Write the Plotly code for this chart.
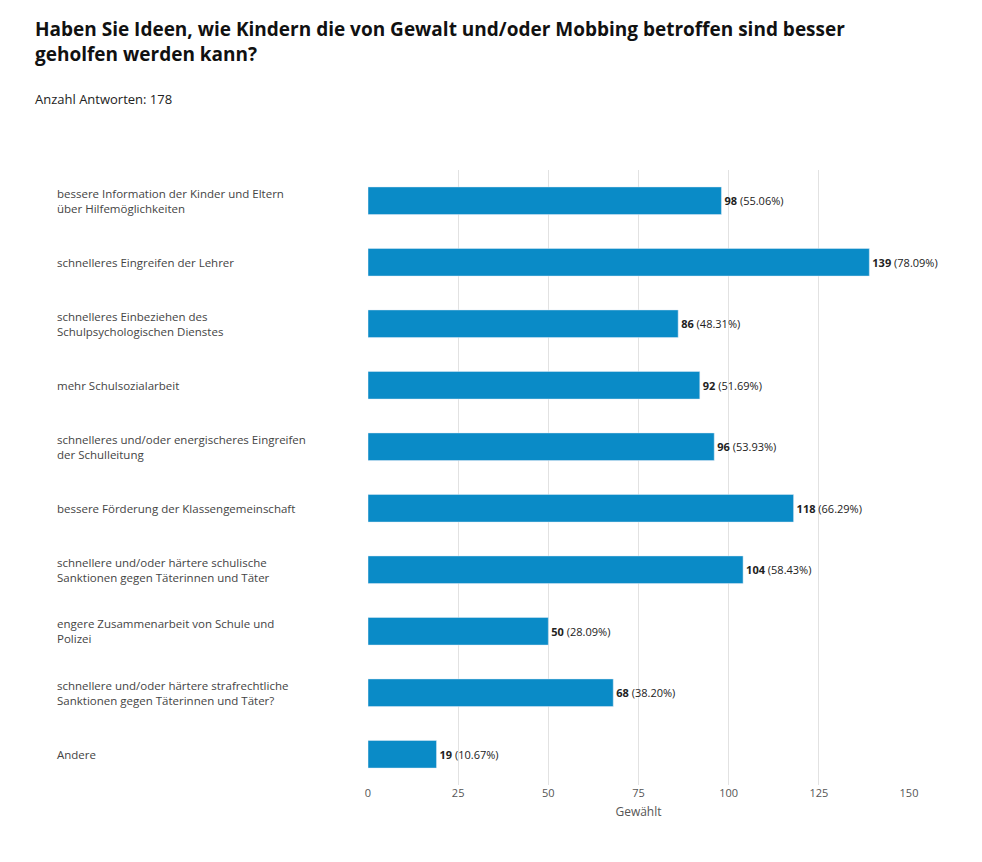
import plotly.graph_objects as go

categories = [
    "bessere Information der Kinder und Eltern<br>über Hilfemöglichkeiten",
    "schnelleres Eingreifen der Lehrer",
    "schnelleres Einbeziehen des<br>Schulpsychologischen Dienstes",
    "mehr Schulsozialarbeit",
    "schnelleres und/oder energischeres Eingreifen<br>der Schulleitung",
    "bessere Förderung der Klassengemeinschaft",
    "schnellere und/oder härtere schulische<br>Sanktionen gegen Täterinnen und Täter",
    "engere Zusammenarbeit von Schule und<br>Polizei",
    "schnellere und/oder härtere strafrechtliche<br>Sanktionen gegen Täterinnen und Täter?",
    "Andere",
]
counts = [98, 139, 86, 92, 96, 118, 104, 50, 68, 19]
percents = ["55.06%", "78.09%", "48.31%", "51.69%", "53.93%", "66.29%", "58.43%", "28.09%", "38.20%", "10.67%"]

font = "Open Sans"
L, T, B = 360, 162, 85
PW, PH = 982 - L - 81, 862 - T - B
ypos = list(range(len(categories)))


def px_x(x):
    return (x - L) / PW


def px_y(y):
    return 1 + (T - y) / PH


fig = go.Figure()
fig.add_trace(go.Bar(
    x=counts, y=ypos, orientation="h", width=0.45,
    marker_color="#0a8bc7",
    text=[f"<b>{c}</b> ({p})" for c, p in zip(counts, percents)],
    textposition="outside", cliponaxis=False,
    textfont=dict(size=11, color="#222"),
    hoverinfo="skip",
))

for i, cat in enumerate(categories):
    fig.add_annotation(
        x=px_x(47), xref="paper", y=i, yref="y",
        text=cat, showarrow=False, xanchor="left", align="left",
        font=dict(size=11.5, color="#444"),
    )

fig.add_annotation(
    text="<b>Haben Sie Ideen, wie Kindern die von Gewalt und/oder Mobbing betroffen sind besser<br>geholfen werden kann?</b>",
    xref="paper", yref="paper", x=px_x(25), y=px_y(6), xanchor="left", yanchor="top",
    align="left", showarrow=False, font=dict(size=19, color="#111"),
)
fig.add_annotation(
    text="Anzahl Antworten: 178", xref="paper", yref="paper",
    x=px_x(25), y=px_y(91), xanchor="left", yanchor="middle",
    showarrow=False, font=dict(size=13, color="#222"),
)

fig.update_layout(
    width=982, height=862,
    margin=dict(l=L, r=81, t=T, b=B),
    paper_bgcolor="white", plot_bgcolor="white",
    font=dict(family=font, color="#444"),
    showlegend=False,
)
fig.update_xaxes(
    range=[0, 150], tickvals=[0, 25, 50, 75, 100, 125, 150],
    showgrid=True, gridcolor="#e2e2e2", zeroline=False,
    tickfont=dict(size=11, color="#555"),
    title=dict(text="Gewählt", font=dict(size=12, color="#555"), standoff=8),
)
fig.update_yaxes(
    range=[len(categories) - 0.5, -0.5], showticklabels=False,
    showgrid=False, zeroline=False,
)

fig.write_html("out.html")
